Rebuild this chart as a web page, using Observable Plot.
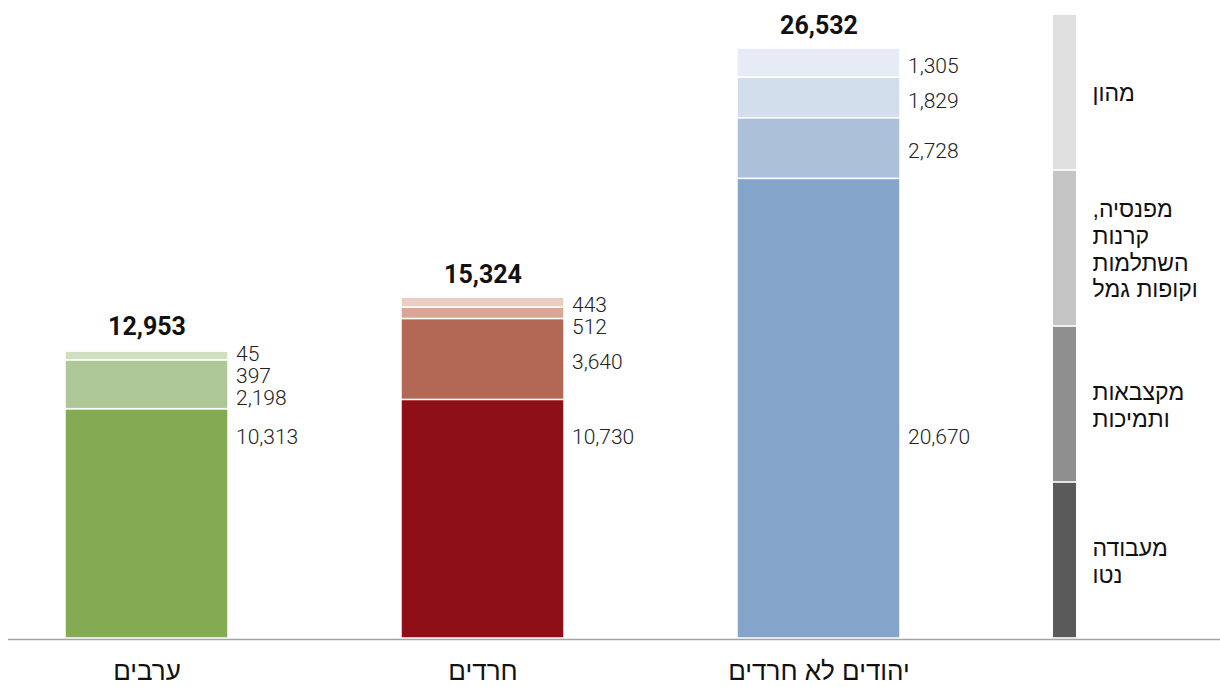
<!DOCTYPE html>
<html lang="he">
<head>
<meta charset="utf-8">
<script src="https://cdn.jsdelivr.net/npm/d3@7"></script>
<script src="https://cdn.jsdelivr.net/npm/@observablehq/plot@0.6"></script>
<style>
  html, body { margin: 0; padding: 0; background: #fff; }
  #wrap { position: relative; width: 1220px; height: 687px; overflow: hidden; }
  #wrap svg { position: absolute; top: 0; }
</style>
</head>
<body>
<div id="wrap"></div>
<script>
// ---- data ----
const groups = ["ערבים", "חרדים", "יהודים לא חרדים"];
const components = ["מעבודה נטו", "מקצבאות ותמיכות", "מפנסיה, קרנות השתלמות וקופות גמל", "מהון"];
const legendLabels = ["מעבודה\nנטו", "מקצבאות\nותמיכות", "מפנסיה,\u200F\nקרנות\nהשתלמות\nוקופות גמל", "מהון"];
const fromWork     = [10313, 10730, 20670];
const fromBenefits = [2198, 3640, 2728];
const fromPension  = [397, 512, 1829];
const fromCapital  = [45, 443, 1305];
const totals       = [12953, 15324, 26532];

// colours (bottom -> top) per group, and legend greys
const palettes = [
  ["#82ab54", "#aec796", "#cfdfbf", "#e6eedc"],
  ["#8e0f15", "#b36855", "#d8a597", "#ebcdc3"],
  ["#84a4c9", "#adc0da", "#d3deec", "#e6ebf5"]
];
const legendColors = ["#5a5a5a", "#8f8f8f", "#c5c5c5", "#e0e0e0"];

// ---- build tables ----
const series = [fromWork, fromBenefits, fromPension, fromCapital];
const rows = [];
groups.forEach((g, gi) => {
  let cum = 0;
  series.forEach((s, si) => {
    const v = s[gi];
    rows.push({group: g, comp: components[si], si, value: v, y1: cum, y2: cum + v, fill: palettes[gi][si]});
    cum += v;
  });
});

// layout of value labels (in data units)
const W = 1220, H = 687, MT = 48, MB = 49;
const yMax = d3.max(totals);
const unitsPerPx = yMax / (H - MT - MB);
const gap = 22 * unitsPerPx;
const baseLabelY = 9200; // fixed level of the bottom-segment labels
const labels = [];
groups.forEach((g) => {
  const rs = rows.filter(r => r.group === g);
  const upper = rs.filter(r => r.si > 0).sort((a, b) => b.si - a.si); // top to bottom
  let prev = Infinity;
  upper.forEach(r => {
    let y = (r.y1 + r.y2) / 2;
    if (prev - y < gap) y = prev - gap;
    prev = y;
    labels.push({group: g, y, text: d3.format(",")(r.value)});
  });
  const base = rs.find(r => r.si === 0);
  labels.push({group: g, y: baseLabelY, text: d3.format(",")(base.value)});
});
const totalRows = groups.map((g, i) => ({group: g, total: totals[i]}));

const main = Plot.plot({
  width: W, height: H,
  marginTop: MT, marginBottom: MB, marginLeft: 8, marginRight: 0,
  style: {fontFamily: "Roboto, 'Liberation Sans', sans-serif", background: "transparent"},
  x: {domain: groups, range: [64, 900], paddingInner: 0.5156, paddingOuter: 0, axis: null},
  y: {domain: [0, yMax], axis: null},
  marks: [
    Plot.barY(rows, {x: "group", y1: "y1", y2: "y2", fill: "fill", stroke: "white", strokeWidth: 1.5}),
    Plot.ruleY([0], {stroke: "#a3a3a3", strokeWidth: 1.6, dy: 1}),
    Plot.text(labels, {x: "group", y: "y", text: "text", frameAnchor: "middle", textAnchor: "start",
      dx: 89, dy: 3, fontSize: 21, fontWeight: 300, fill: "#222"}),
    Plot.text(totalRows, {x: "group", y: "total", text: d => d3.format(",")(d.total),
      dy: -23, fontSize: 25, fontWeight: 700, fill: "#111"}),
    Plot.text(groups, {x: d => d, y: () => 0, text: d => d, dy: 33,
      fontSize: 26, fontFamily: "'Liberation Sans', 'DejaVu Sans', sans-serif", fill: "#111"})
  ]
});

const legendRows = legendLabels.map((t, i) => ({i, label: t, fill: legendColors[i]}));
const legend = Plot.plot({
  width: 180, height: H,
  marginTop: 14, marginBottom: MB, marginLeft: 0, marginRight: 0,
  style: {fontFamily: "'Liberation Sans', 'DejaVu Sans', sans-serif", background: "transparent"},
  x: {domain: [0, 1], range: [13, 36], axis: null},
  y: {domain: [0, legendLabels.length], axis: null},
  marks: [
    Plot.rect(legendRows, {x1: () => 0, x2: () => 1, y1: d => d.i, y2: d => d.i + 1, fill: "fill",
      insetTop: 0.8, insetBottom: 0.8}),
    Plot.text(legendRows, {x: () => 1, y: d => d.i + 0.5, text: "label", textAnchor: "start",
      dx: 16, fontSize: 23, lineHeight: 1.17, fill: "#111"})
  ]
});

const wrap = document.getElementById("wrap");
main.style.left = "0px";
legend.style.left = "1040px";
wrap.appendChild(main);
wrap.appendChild(legend);
</script>
</body>
</html>
